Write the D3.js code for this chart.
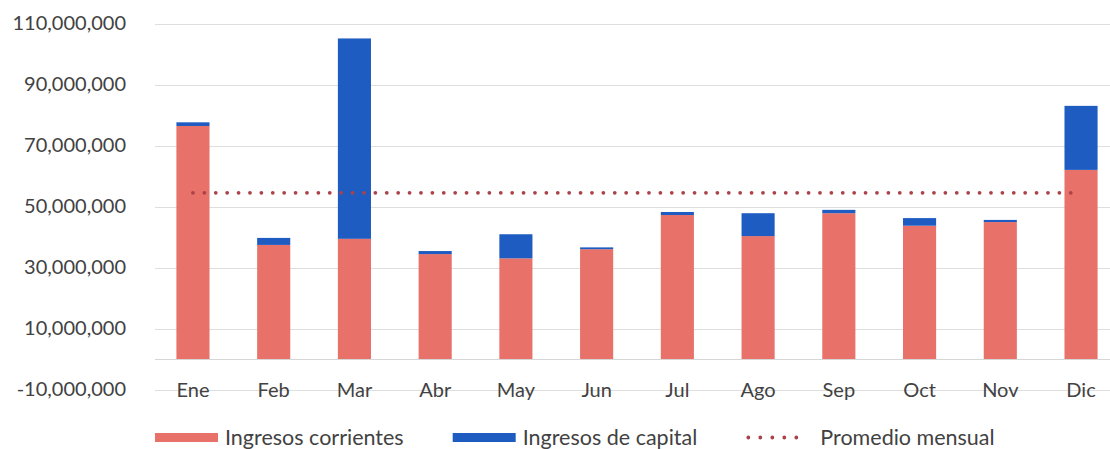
<!DOCTYPE html>
<html>
<head>
<meta charset="utf-8">
<script src="https://cdn.jsdelivr.net/npm/d3@7"></script>
<style>
    body { margin: 0; background: #fff; }
    #chart-area { width: 1110px; height: 449px; }
    .axis text { font-family: Lato, "Open Sans", sans-serif; fill: #424242; }
</style>
</head>
<body>
<div id="chart-area"></div>
<script>

// month labels
let months = ["Ene", "Feb", "Mar", "Abr", "May", "Jun", "Jul", "Ago", "Sep", "Oct", "Nov", "Dic"];

// Ingresos corrientes
let corrientes = [76400000, 37400000, 39400000, 34400000, 33000000, 36000000,
                  47200000, 40300000, 47800000, 43700000, 44900000, 62000000];

// Ingresos de capital
let capital = [1200000, 2300000, 65700000, 1000000, 7900000, 600000,
               1000000, 7500000, 1100000, 2500000, 700000, 21000000];

// Promedio mensual (flat line)
let promedio = [54500000, 54500000, 54500000, 54500000, 54500000, 54500000,
                54500000, 54500000, 54500000, 54500000, 54500000, 54500000];

let yTicks = [-10000000, 10000000, 30000000, 50000000, 70000000, 90000000, 110000000];
let seriesNames = ["Ingresos corrientes", "Ingresos de capital", "Promedio mensual"];


class StackedBarChart {

    constructor(parentElement) {
        this.parentElement = parentElement;

        this.data = months.map(function(m, i) {
            return {month: m, corrientes: corrientes[i], capital: capital[i], promedio: promedio[i]};
        });

        this.initVis();
    }

    initVis() {
        let vis = this;

        vis.width = 1110;
        vis.height = 449;
        vis.colors = {corrientes: "#e8716a", capital: "#1f5cc2", promedio: "#ab4249"};

        vis.svg = d3.select("#" + vis.parentElement).append("svg")
            .attr("width", vis.width)
            .attr("height", vis.height);

        // Scales
        vis.x = d3.scaleBand()
            .domain(months)
            .range([152.6, 1121.4])
            .paddingInner(0.59)
            .paddingOuter(0.295);

        vis.y = d3.scaleLinear()
            .domain([-10000000, 110000000])
            .range([389.5, 23.5]);

        // gridlines
        vis.svg.append("g")
            .attr("class", "grid")
            .selectAll("line")
            .data(yTicks)
            .enter().append("line")
            .attr("x1", 155)
            .attr("x2", vis.width)
            .attr("y1", d => Math.round(vis.y(d)) + 0.5)
            .attr("y2", d => Math.round(vis.y(d)) + 0.5)
            .attr("stroke", "#dedede")
            .attr("stroke-width", 1);

        // zero line
        vis.svg.append("line")
            .attr("x1", 155)
            .attr("x2", vis.width)
            .attr("y1", Math.round(vis.y(0)) + 0.5)
            .attr("y2", Math.round(vis.y(0)) + 0.5)
            .attr("stroke", "#d6d6d6");

        // y axis labels (plain hyphen for the negative one)
        let fmt = d3.format(",.0f");
        vis.yAxis = d3.axisLeft(vis.y)
            .tickValues(yTicks)
            .tickSize(0)
            .tickPadding(0)
            .tickFormat(d => fmt(d).replace("\u2212", "-"));

        vis.svg.append("g")
            .attr("class", "y-axis axis")
            .attr("transform", "translate(126,0)")
            .call(vis.yAxis)
            .call(g => g.select(".domain").remove())
            .selectAll("text")
            .style("font-size", "20px");

        // month labels sit at the bottom of the plot
        vis.xAxis = d3.axisBottom(vis.x)
            .tickSize(0)
            .tickPadding(0);

        vis.svg.append("g")
            .attr("class", "x-axis axis")
            .attr("transform", "translate(0," + vis.y(-10000000) + ")")
            .call(vis.xAxis)
            .call(g => g.select(".domain").remove())
            .selectAll("text")
            .attr("dy", "0.35em")
            .style("font-size", "20px");

        vis.barGroup = vis.svg.append("g").attr("class", "bars");
        vis.lineGroup = vis.svg.append("g").attr("class", "line");
        vis.legend = vis.svg.append("g").attr("class", "legend");

        vis.wrangleData();
    }

    wrangleData() {
        let vis = this;

        vis.stack = d3.stack().keys(["corrientes", "capital"]);
        vis.stackedData = vis.stack(vis.data);

        vis.updateVis();
    }

    updateVis() {
        let vis = this;

        // stacked bars
        vis.barGroup.selectAll("g.layer")
            .data(vis.stackedData)
            .enter().append("g")
            .attr("class", "layer")
            .attr("fill", d => vis.colors[d.key])
            .selectAll("rect")
            .data(d => d)
            .enter().append("rect")
            .attr("x", d => vis.x(d.data.month))
            .attr("width", vis.x.bandwidth())
            .attr("y", d => vis.y(d[1]))
            .attr("height", d => vis.y(d[0]) - vis.y(d[1]));

        // promedio line (dotted)
        let line = d3.line()
            .x(d => vis.x(d.month) + vis.x.bandwidth() / 2)
            .y(d => vis.y(d.promedio));

        vis.lineGroup.append("path")
            .datum(vis.data)
            .attr("d", line)
            .attr("fill", "none")
            .attr("stroke", vis.colors.promedio)
            .attr("stroke-width", 3.8)
            .attr("stroke-linecap", "round")
            .attr("stroke-dasharray", "0,11.4");

        // legend
        let keys = ["corrientes", "capital", "promedio"];
        let xPos = 155;
        let ly = 437.5;

        keys.forEach(function(k, i) {
            let item = vis.legend.append("g");
            if (k === "promedio") {
                item.append("line")
                    .attr("x1", xPos + 2)
                    .attr("x2", xPos + 62)
                    .attr("y1", ly)
                    .attr("y2", ly)
                    .attr("stroke", vis.colors.promedio)
                    .attr("stroke-width", 3.8)
                    .attr("stroke-linecap", "round")
                    .attr("stroke-dasharray", "0,12");
            } else {
                item.append("rect")
                    .attr("x", xPos)
                    .attr("y", ly - 4.5)
                    .attr("width", 63)
                    .attr("height", 9)
                    .attr("fill", vis.colors[k]);
            }
            let txt = item.append("text")
                .attr("x", xPos + (k === "promedio" ? 74 : 70))
                .attr("y", ly)
                .attr("dy", "0.35em")
                .style("font-family", "Lato, 'Open Sans', sans-serif")
                .style("font-size", "21.5px")
                .style("fill", "#424242")
                .text(seriesNames[i]);
            xPos = xPos + 70 + txt.node().getComputedTextLength() + 49;
        });
    }
}

let chart = new StackedBarChart("chart-area");

</script>
</body>
</html>
